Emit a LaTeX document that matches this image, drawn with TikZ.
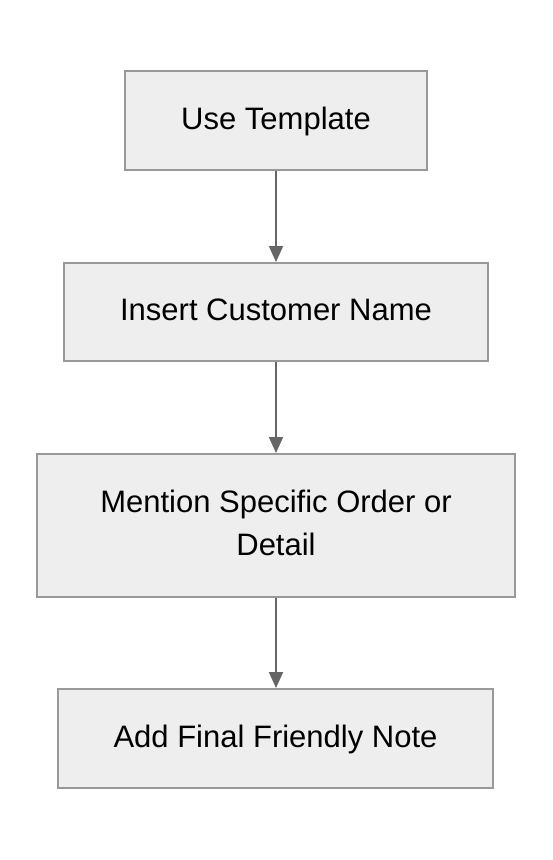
\documentclass[tikz,border=0pt]{standalone}
\usepackage{fontspec}
\setmainfont{Liberation Sans}
\usetikzlibrary{arrows.meta}
\definecolor{boxfill}{HTML}{EEEEEE}
\definecolor{boxline}{HTML}{999999}
\definecolor{arrowcol}{HTML}{666666}
\tikzset{
  flowbox/.style={draw=boxline, fill=boxfill, line width=2pt, inner sep=0pt,
    align=center, font=\fontsize{31}{43}\selectfont, text=black},
  flowarrow/.style={draw=arrowcol, line width=2pt,
    -{Triangle[length=16pt,width=14pt]}, shorten >=0pt}
}
\begin{document}
\begin{tikzpicture}[x=1pt,y=-1pt]
\useasboundingbox (0,0) rectangle (552,860);
\node[flowbox, minimum width=302pt, minimum height=99pt] (a) at (276,120.5) {\strut Use Template};
\node[flowbox, minimum width=424pt, minimum height=98pt] (b) at (276,312) {\strut Insert Customer Name};
\node[flowbox, minimum width=478pt, minimum height=143pt] (c) at (276,525.5) {\strut Mention Specific Order or\\\strut Detail};
\node[flowbox, minimum width=435pt, minimum height=99pt] (d) at (275.5,738.5) {\strut Add Final Friendly Note};
\draw[flowarrow] (a.south -| 276,0) -- (b.north -| 276,0);
\draw[flowarrow] (b.south) -- (c.north);
\draw[flowarrow] (c.south) -- (d.north -| 276,0);
\end{tikzpicture}
\end{document}
